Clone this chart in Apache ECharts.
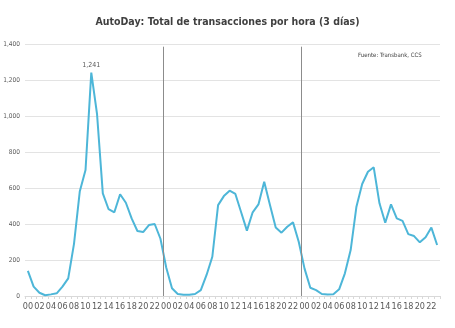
<!DOCTYPE html>
<html>
<head>
<meta charset="utf-8">
<script src="https://cdn.jsdelivr.net/npm/echarts@6/dist/echarts.min.js"></script>
<style>html,body{margin:0;padding:0;background:#fff}#c{width:455px;height:328px}</style>
</head>
<body>
<div id="c"></div>
<script>
const hourLabels = [
  "00","01","02","03","04","05","06","07","08","09","10","11","12","13","14","15","16","17","18","19","20","21","22","23",
  "00","01","02","03","04","05","06","07","08","09","10","11","12","13","14","15","16","17","18","19","20","21","22","23",
  "00","01","02","03","04","05","06","07","08","09","10","11","12","13","14","15","16","17","18","19","20","21","22","23"
];
const day1 = [140, 52, 18, 4, 9, 15, 52, 98, 290, 580, 700, 1241, 1010, 570, 482, 465, 565, 518, 431, 361, 355, 394, 400, 318];
const day2 = [158, 43, 11, 7, 7, 11, 33, 117, 218, 505, 555, 585, 567, 465, 363, 465, 509, 635, 505, 380, 352, 385, 409, 300];
const day3 = [152, 46, 33, 11, 9, 10, 37, 126, 255, 496, 622, 690, 715, 515, 407, 509, 431, 417, 344, 333, 298, 326, 380, 283];
const yTicks = [0, 200, 400, 600, 800, 1000, 1200, 1400];
const dayBoundaries = [24, 48];
const peakIndex = 11;
const titleText = "AutoDay: Total de transacciones por hora (3 días)";
const sourceText = "Fuente: Transbank, CCS";

const values = day1.concat(day2, day3);
const fmt = v => String(v).replace(/\B(?=(\d{3})+(?!\d))/g, ",");
const FONT = "'Liberation Sans Narrow', 'DejaVu Sans Condensed', sans-serif";

const chart = echarts.init(document.getElementById('c'), null, { renderer: 'canvas' });
chart.setOption({
  animation: false,
  backgroundColor: '#ffffff',
  title: {
    text: titleText, left: 'center', top: 12,
    textStyle: { fontFamily: FONT, fontSize: 10.5, fontWeight: 'bold', color: '#404040' }
  },
  graphic: [{
    type: 'text', left: 358, top: 52,
    style: { text: sourceText, fontFamily: FONT, fontSize: 6, fill: '#404040' }
  }],
  grid: { left: 25, right: 15, top: 44, bottom: 32, containLabel: false, outerBoundsMode: 'none' },
  xAxis: [{
    type: 'category', data: hourLabels, boundaryGap: true,
    axisLine: { show: true, lineStyle: { color: '#d9d9d9', width: 1 } },
    axisTick: { show: true, interval: 0, length: 3, lineStyle: { color: '#d9d9d9' } },
    axisLabel: { interval: 1, fontFamily: FONT, fontSize: 9, color: '#595959', margin: 6 },
    splitLine: { show: false }
  }, {
    type: 'value', min: 0, max: hourLabels.length, show: false
  }],
  yAxis: {
    type: 'value', min: yTicks[0], max: yTicks[yTicks.length - 1], interval: 200,
    axisLine: { show: false }, axisTick: { show: false },
    axisLabel: { formatter: v => fmt(v), fontFamily: FONT, fontSize: 6.5, color: '#595959', margin: 5 },
    splitLine: { lineStyle: { color: '#e3e3e3', width: 1 } }
  },
  series: [{
    type: 'line', data: values, symbol: 'none', smooth: false,
    lineStyle: { color: '#4DB6D8', width: 2 },
    itemStyle: { color: '#4DB6D8' },
    markPoint: {
      symbol: 'circle', symbolSize: 0,
      data: [{ coord: [peakIndex, values[peakIndex]], value: values[peakIndex] }],
      label: { show: true, position: 'top', distance: 4, formatter: p => fmt(p.value), fontSize: 7, color: '#595959', fontFamily: FONT }
    }
  }, {
    type: 'line', xAxisIndex: 1, data: [[dayBoundaries[0], 0]], symbol: 'none',
    lineStyle: { width: 0, opacity: 0 },
    markLine: {
      silent: true, symbol: ['none', 'none'], label: { show: false },
      lineStyle: { color: '#8c8c8c', width: 1, type: 'solid' },
      data: dayBoundaries.map(b => [{ coord: [b, 0] }, { coord: [b, 1385] }])
    }
  }]
});
</script>
</body>
</html>
